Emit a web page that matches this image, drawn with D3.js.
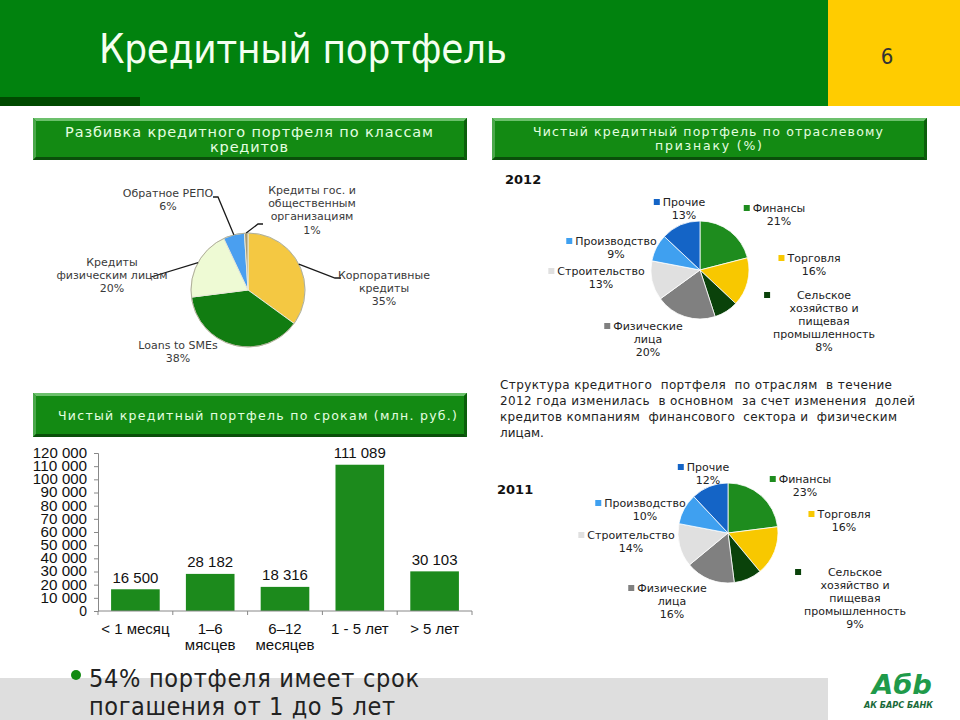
<!DOCTYPE html>
<html><head><meta charset="utf-8">
<script src="https://cdn.jsdelivr.net/npm/d3@7"></script>
<style>body{margin:0;background:#fff}svg{display:block}</style>
</head><body>
<svg id="c" width="960" height="720"></svg>
<script>
// ---------- DATA ----------
const classLabels = ["Корпоративные|кредиты", "Loans to SMEs", "Кредиты|физическим лицам", "Обратное РЕПО", "Кредиты гос. и|общественным|организациям"];
const classValues = [35, 38, 20, 6, 1];

const sectorLabels = ["Финансы", "Торговля", "Сельское|хозяйство и|пищевая|промышленность", "Физические|лица", "Строительство", "Производство", "Прочие"];
const sector2012 = [21, 16, 8, 20, 13, 9, 13];
const sector2011 = [23, 16, 9, 16, 14, 10, 12];

const termCategories = ["< 1 месяц", "1–6|мясцев", "6–12|месяцев", "1 - 5 лет", "> 5 лет"];
const termValues = [16500, 28182, 18316, 111089, 30103];
const termTicks = [0, 10000, 20000, 30000, 40000, 50000, 60000, 70000, 80000, 90000, 100000, 110000, 120000];

const paragraphLines = [
  "Структура кредитного  портфеля  по отраслям  в течение",
  "2012 года изменилась  в основном  за счет изменения  долей",
  "кредитов компаниям  финансового  сектора и  физическим",
  "лицам."
];

// ---------- STYLE / LAYOUT ----------
const svg = d3.select("#c");
const SANS = "DejaVu Sans, Verdana, sans-serif";
const COND = "DejaVu Sans Condensed, DejaVu Sans, sans-serif";
const ARIAL = "Liberation Sans, Arial, sans-serif";
const fmt = d => d3.format(",")(d).replace(/,/g, " ");

// header
svg.append("rect").attr("x", 0).attr("y", 0).attr("width", 828).attr("height", 106).attr("fill", "#01820e");
svg.append("rect").attr("x", 828).attr("y", 0).attr("width", 132).attr("height", 106).attr("fill", "#ffcc00");
svg.append("rect").attr("x", 0).attr("y", 97).attr("width", 140).attr("height", 9).attr("fill", "#004a00");
svg.append("text").attr("x", 99).attr("y", 63).attr("font-family", COND).attr("font-size", 40)
  .attr("fill", "#f4fff0").attr("textLength", 408).attr("lengthAdjust", "spacing").text("Кредитный портфель");
svg.append("text").attr("x", 887).attr("y", 56).attr("dy", "0.35em").attr("text-anchor", "middle").attr("font-family", COND)
  .attr("font-size", 22).attr("fill", "#333").text("6");

// footer
svg.append("rect").attr("x", 0).attr("y", 678).attr("width", 828).attr("height", 42).attr("fill", "#dedede");
svg.append("circle").attr("cx", 76).attr("cy", 675).attr("r", 5).attr("fill", "#128a12");
svg.append("text").attr("x", 89).attr("y", 678).attr("dy", "0.35em").attr("font-family", COND).attr("font-size", 25)
  .attr("fill", "#222").attr("textLength", 330).attr("lengthAdjust", "spacing").text("54% портфеля имеет срок");
svg.append("text").attr("x", 89).attr("y", 706).attr("dy", "0.35em").attr("font-family", COND).attr("font-size", 25)
  .attr("fill", "#222").attr("textLength", 306).attr("lengthAdjust", "spacing").text("погашения от 1 до 5 лет");
// logo
svg.append("text").attr("x", 872).attr("y", 694).attr("font-family", COND).attr("font-weight", "bold").attr("font-style", "italic")
  .attr("font-size", 26).attr("fill", "#1f9a4a").attr("textLength", 60).attr("lengthAdjust", "spacingAndGlyphs").text("Абb");
svg.append("text").attr("x", 864).attr("y", 708).attr("font-family", COND).attr("font-weight", "bold").attr("font-style", "italic")
  .attr("font-size", 9).attr("fill", "#1a6a3a").attr("textLength", 69).attr("lengthAdjust", "spacingAndGlyphs").text("АК БАРС БАНК");

// bevelled section header boxes
function box(x, y, w, h, lines, fs) {
  const g = svg.append("g");
  const b = 3;
  g.append("rect").attr("x", x).attr("y", y).attr("width", w).attr("height", h).attr("fill", "#138a13");
  g.append("polygon").attr("points", [[x, y], [x + w, y], [x + w - b, y + b], [x + b, y + b]].join(" ")).attr("fill", "#6cc06c");
  g.append("polygon").attr("points", [[x, y], [x + b, y + b], [x + b, y + h - b], [x, y + h]].join(" ")).attr("fill", "#4aa84a");
  g.append("polygon").attr("points", [[x, y + h], [x + b, y + h - b], [x + w - b, y + h - b], [x + w, y + h]].join(" ")).attr("fill", "#0a4f0a");
  g.append("polygon").attr("points", [[x + w, y], [x + w, y + h], [x + w - b, y + h - b], [x + w - b, y + b]].join(" ")).attr("fill", "#0b5e0b");
  lines.forEach(l => {
    g.append("text").attr("x", l.x).attr("y", l.y).attr("dy", "0.35em").attr("font-family", SANS).attr("font-size", fs)
      .attr("fill", "#e4ffe0").attr("textLength", l.len).attr("lengthAdjust", "spacing").text(l.t);
  });
}
box(33, 118, 434, 42, [{t: "Разбивка кредитного портфеля по классам", x: 65, y: 132, len: 368}, {t: "кредитов", x: 210, y: 147, len: 78}], 14.5);
box(492, 118, 435, 42, [{t: "Чистый кредитный портфель по отраслевому", x: 533, y: 132, len: 350}, {t: "признаку (%)", x: 655, y: 146, len: 107}], 12.5);
box(33, 393, 434, 44, [{t: "Чистый кредитный портфель по срокам (млн. руб.)", x: 58, y: 416, len: 399}], 12.5);

// ---------- LEFT PIE ----------
{
  const cx = 248, cy = 290, r = 57;
  const colors = ["#f4c842", "#117c11", "#eefad4", "#4a9ff0", "#a89a72"];
  const pie = d3.pie().sort(null).value(d => d)(classValues);
  const arc = d3.arc().innerRadius(0).outerRadius(r);
  const g = svg.append("g").attr("transform", `translate(${cx},${cy})`);
  g.selectAll("path").data(pie).join("path").attr("d", arc).attr("fill", (d, i) => colors[i])
    .attr("stroke", "#e8e8d8").attr("stroke-width", 1);
  g.append("circle").attr("r", r).attr("fill", "none").attr("stroke", "#a0a088").attr("stroke-width", 0.8);

  const labelPos = [[384, 275], [178, 345], [112, 262], [168, 193], [312, 190]];
  const leaders = [[[335, 278], [341, 278]], null, [[151, 277]], [[218, 197], [213, 197]], [[258, 224], [263, 224]]];
  pie.forEach((d, i) => {
    if (leaders[i]) {
      const a = (d.startAngle + d.endAngle) / 2;
      const p0 = [cx + r * Math.sin(a), cy - r * Math.cos(a)];
      svg.append("polyline").attr("points", [p0, ...leaders[i]].join(" ")).attr("fill", "none")
        .attr("stroke", "#1a1a1a").attr("stroke-width", 1.3);
    }
    const lines = classLabels[i].split("|").concat([classValues[i] + "%"]);
    const t = svg.append("text").attr("font-family", SANS).attr("font-size", 11).attr("fill", "#3a3a3a").attr("text-anchor", "middle");
    lines.forEach((l, k) => t.append("tspan").attr("x", labelPos[i][0]).attr("y", labelPos[i][1] + k * 13.3).attr("dy", "0.35em").text(l));
  });
}

// ---------- SECTOR PIES ----------
const sectorColors = ["#1e8c1e", "#f8c800", "#0a420a", "#808080", "#e0e0e0", "#3fa0f0", "#1464c6"];
function sectorPie(values, cx, cy, r, pos) {
  const pie = d3.pie().sort(null).value(d => d)(values);
  const arc = d3.arc().innerRadius(0).outerRadius(r);
  const g = svg.append("g").attr("transform", `translate(${cx},${cy})`);
  g.selectAll("path").data(pie).join("path").attr("d", arc).attr("fill", (d, i) => sectorColors[i])
    .attr("stroke", "#fff").attr("stroke-width", 0.8);
  values.forEach((v, i) => {
    const lines = sectorLabels[i].split("|").concat([v + "%"]);
    const t = svg.append("text").attr("font-family", SANS).attr("font-size", 11).attr("fill", "#222").attr("text-anchor", "middle");
    const spans = lines.map((l, k) => t.append("tspan").attr("x", pos[i][0]).attr("y", pos[i][1] + k * 13).attr("dy", "0.35em").text(l));
    const maxW = d3.max(spans, s => s.node().getComputedTextLength());
    svg.append("rect").attr("x", pos[i][0] - maxW / 2 - 9).attr("y", pos[i][1] - 3).attr("width", 6).attr("height", 6)
      .attr("fill", sectorColors[i]);
  });
}
sectorPie(sector2012, 700, 270, 49, [[779, 208], [814, 258], [824, 295], [648, 326], [601, 271], [616, 241], [684, 202]]);
sectorPie(sector2011, 728, 533, 50, [[805, 479], [844, 514], [855, 572], [672, 588], [631, 535], [645, 503], [708, 467]]);

svg.append("text").attr("x", 505).attr("y", 179).attr("dy", "0.35em").attr("font-family", SANS).attr("font-weight", "bold")
  .attr("font-size", 13).attr("fill", "#111").text("2012");
svg.append("text").attr("x", 497).attr("y", 489).attr("dy", "0.35em").attr("font-family", SANS).attr("font-weight", "bold")
  .attr("font-size", 13).attr("fill", "#111").text("2011");

const paraLens = [392, 415, 397, null];
paragraphLines.forEach((l, k) => {
  const t = svg.append("text").attr("x", 500).attr("y", 385 + k * 16).attr("dy", "0.35em").attr("font-family", SANS)
    .attr("font-size", 12).attr("fill", "#222").attr("xml:space", "preserve").style("white-space", "pre").text(l);
  if (paraLens[k]) t.attr("textLength", paraLens[k]).attr("lengthAdjust", "spacing");
});

// ---------- BAR CHART ----------
{
  const x = d3.scaleBand().domain(termCategories).range([98, 472]).paddingInner(0.35).paddingOuter(0.175);
  const y = d3.scaleLinear().domain([0, 120000]).range([611, 453]);
  const g = svg.append("g");
  const yAxis = g.append("g").attr("transform", "translate(98,0)")
    .call(d3.axisLeft(y).tickValues(termTicks).tickFormat(fmt).tickSize(4).tickPadding(7));
  yAxis.select(".domain").attr("stroke", "#888");
  yAxis.selectAll(".tick line").attr("stroke", "#888");
  yAxis.selectAll(".tick text").attr("font-family", ARIAL).attr("font-size", 14).attr("fill", "#111")
    .attr("textLength", 54).attr("lengthAdjust", "spacingAndGlyphs")
    .each(function(d) { d3.select(this).attr("textLength", fmt(d).length * 7.75); });

  g.selectAll("rect.bar").data(termValues).join("rect").attr("class", "bar")
    .attr("x", (d, i) => x(termCategories[i])).attr("width", x.bandwidth())
    .attr("y", d => y(d)).attr("height", d => y(0) - y(d)).attr("fill", "#1c8a1c");

  // x axis line and boundary ticks
  g.append("line").attr("x1", 98).attr("x2", 472).attr("y1", y(0)).attr("y2", y(0)).attr("stroke", "#888");
  const bounds = [x(termCategories[0]) - x.step() * x.paddingInner() / 2].concat(
    termCategories.map(c => x(c) + x.bandwidth() + x.step() * x.paddingInner() / 2));
  g.selectAll("line.xt").data(bounds).join("line").attr("class", "xt").attr("x1", d => d).attr("x2", d => d)
    .attr("y1", y(0)).attr("y2", y(0) + 4).attr("stroke", "#888");

  g.selectAll("text.val").data(termValues).join("text").attr("class", "val")
    .attr("x", (d, i) => x(termCategories[i]) + x.bandwidth() / 2).attr("y", d => y(d) - 12).attr("dy", "0.35em")
    .attr("text-anchor", "middle").attr("font-family", ARIAL).attr("font-size", 15).attr("fill", "#111").text(fmt);

  termCategories.forEach(c => {
    const t = g.append("text").attr("text-anchor", "middle").attr("font-family", ARIAL).attr("font-size", 15).attr("fill", "#111");
    c.split("|").forEach((l, k) => t.append("tspan").attr("x", x(c) + x.bandwidth() / 2).attr("y", 629 + k * 16).attr("dy", "0.35em").text(l));
  });
}
</script>
</body></html>
